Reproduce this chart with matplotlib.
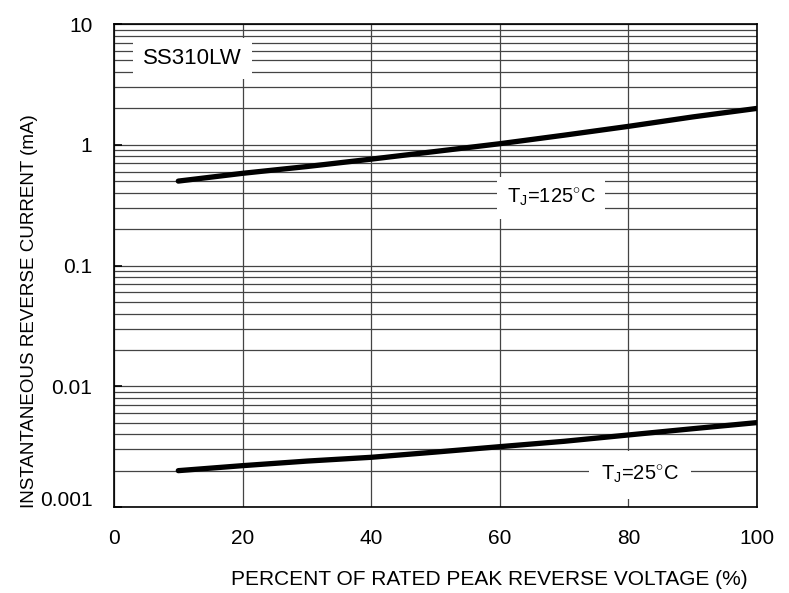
import matplotlib
matplotlib.use("Agg")
import matplotlib.pyplot as plt
import matplotlib.transforms as mtransforms
from matplotlib.ticker import LogLocator, NullFormatter

plt.rcParams['font.family'] = ['Liberation Sans', 'DejaVu Sans']
plt.rcParams['mathtext.fontset'] = 'custom'
plt.rcParams['mathtext.rm'] = 'Liberation Sans'
plt.rcParams['mathtext.it'] = 'Liberation Sans'

# Data
voltage_pct = [10, 20, 30, 40, 50, 60, 70, 80, 90, 100]
ir_125C = [0.50, 0.58, 0.66, 0.76, 0.88, 1.02, 1.20, 1.42, 1.70, 2.00]
ir_25C = [0.0020, 0.0022, 0.0024, 0.00258, 0.00285, 0.00316, 0.0035, 0.00395, 0.00445, 0.0050]
x_ticks = [0, 20, 40, 60, 80, 100]
y_ticks = [0.001, 0.01, 0.1, 1, 10]
y_tick_labels = ['0.001', '0.01', '0.1', '1', '10']

fig = plt.figure(figsize=(7.89, 5.93), dpi=100)
ax = fig.add_axes([114/789, 1-507/593, (757-114)/789, (507-24)/593])

ax.set_yscale('log')
ax.set_xlim(0, 100)
ax.set_ylim(0.001, 10)

grid_color = '#444444'
ax.set_xticks(x_ticks)
ax.set_yticks(y_ticks)
ax.set_yticklabels(y_tick_labels)
ax.yaxis.set_minor_locator(LogLocator(base=10, subs=range(2, 10)))
ax.yaxis.set_minor_formatter(NullFormatter())
ax.grid(True, which='major', axis='x', color=grid_color, lw=0.9)
ax.grid(True, which='both', axis='y', color=grid_color, lw=0.9)
ax.tick_params(axis='x', which='both', length=0, pad=16, labelsize=15)
ax.tick_params(axis='y', which='major', direction='in', length=6, width=1.2, pad=15.5, labelsize=15)
ax.tick_params(axis='y', which='minor', length=0)
for s in ax.spines.values():
    s.set_linewidth(1.2)
    s.set_color('black')

# lift the lowest y tick label slightly as in the reference
lbl = ax.get_yticklabels()[0]
lbl.set_transform(lbl.get_transform() + mtransforms.ScaledTranslation(0, 0.08, fig.dpi_scale_trans))

ax.plot(voltage_pct, ir_125C, color='black', lw=3.8, solid_capstyle='round', zorder=3)
ax.plot(voltage_pct, ir_25C, color='black', lw=3.8, solid_capstyle='round', zorder=3)

ax.set_xlabel('PERCENT OF RATED PEAK REVERSE VOLTAGE (%)', fontsize=15)
ax.xaxis.set_label_coords(0.583, -0.151)
ax.xaxis.label.set_verticalalignment('center')
ax.set_ylabel('INSTANTANEOUS REVERSE CURRENT (mA)', fontsize=13.5)
ax.yaxis.set_label_coords(-0.131, 0.405)
ax.yaxis.label.set_verticalalignment('center')

ax.text(12.2, 5.2, 'SS310LW', fontsize=16, ha='center', va='center',
        bbox=dict(facecolor='white', edgecolor='none', pad=7), zorder=4)
ax.text(68.0, 0.364, r'T$_\mathregular{J}$=125$^{\circ}$C', fontsize=14.5, ha='center', va='center',
        bbox=dict(facecolor='white', edgecolor='none', pad=7), zorder=4)
ax.text(81.8, 0.00184, r'T$_\mathregular{J}$=25$^{\circ}$C', fontsize=14.5, ha='center', va='center',
        bbox=dict(facecolor='white', edgecolor='none', pad=9), zorder=4)

fig.savefig('out.png', dpi=100)
